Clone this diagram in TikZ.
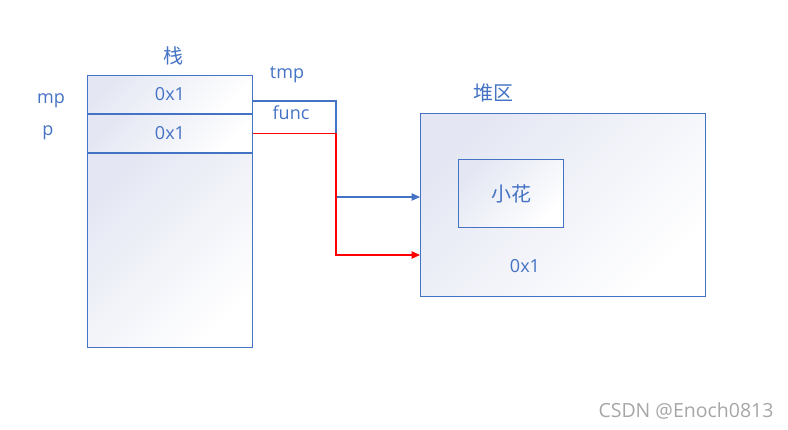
\documentclass[tikz,border=0pt]{standalone}
\usepackage{fontspec}
\setmainfont{Open Sans}
\newfontfamily\cjk{Noto Sans CJK SC}
\usetikzlibrary{positioning, arrows.meta}

\definecolor{memblue}{HTML}{4472C4}
\definecolor{memshade}{HTML}{E4E7F3}
\definecolor{markgray}{HTML}{A6A6A6}

\tikzset{
    memtext/.style = {text=memblue, font=\fontsize{18}{20}\selectfont, inner sep=0pt},
    cjktext/.style = {text=memblue, font=\cjk\fontsize{20}{22}\selectfont, inner sep=0pt},
    membox/.style = {draw=memblue, line width=1pt, inner sep=0pt,
        top color=memshade, bottom color=white, shading angle=45},
    memcell/.style = {membox, memtext, minimum width=165pt, minimum height=38pt},
    ptrline/.style = {line width=1.1pt, -{Triangle[length=8.5pt, width=7.5pt]}},
}

\begin{document}
\begin{tikzpicture}[x=1pt, y=-1pt]
    \useasboundingbox (0,0) rectangle (788,429);
    % stack
    \node[memcell, anchor=north west] (mpcell) at (87,75) {0x1};
    \node[memcell, below=0pt of mpcell] (pcell) {0x1};
    \node[membox, below=0pt of pcell, minimum width=165pt, minimum height=194pt] (stackrest) {};
    \node[cjktext] (stacktitle) at (173,56) {栈};
    \node[memtext] (mplabel) at (51,101) {mp};
    \node[memtext] (plabel) at (48,133) {p};
    % heap
    \node[membox, anchor=north west, minimum width=285pt, minimum height=183pt] (heap) at (420,113) {};
    \node[membox, cjktext, anchor=north west, minimum width=105pt, minimum height=68pt] (flower) at (458,159) {小花};
    \node[cjktext] (heaptitle) at (493,93) {堆区};
    \node[memtext] (heapaddr) at (525,266) {0x1};
    % pointers
    \coordinate (tmpout) at (252,101);
    \coordinate (bend) at (336,0);
    \draw[ptrline, memblue] (tmpout) -- (tmpout -| bend) |- (heap.west |- 0,197);
    \draw[ptrline, red] (pcell.east) -- (pcell.east -| bend) |- (heap.west |- 0,255);
    \node[memtext] (tmplabel) at (287,75) {tmp};
    \node[memtext] (funclabel) at (291,113) {func};
    % watermark
    \node[text=markgray, font=\fontsize{19.5}{22}\selectfont, anchor=east] (mark) at (777,411) {CSDN @Enoch0813};
\end{tikzpicture}
\end{document}
